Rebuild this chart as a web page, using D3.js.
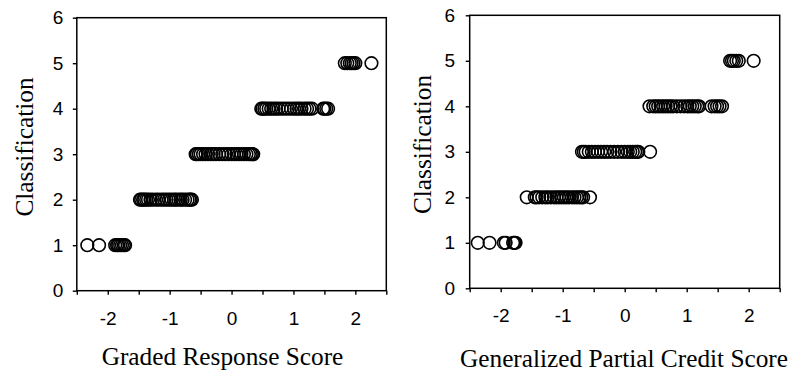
<!DOCTYPE html>
<html><head><meta charset="utf-8">
<script src="https://cdn.jsdelivr.net/npm/d3@7"></script>
<style>html,body{margin:0;padding:0;background:#fff;}svg{display:block;}</style>
</head><body>
<svg id="chart" width="796" height="374"></svg>
<script>
// ---- data ----
const xTickLabels = [-2, -1, 0, 1, 2];
const yTickLabels = [0, 1, 2, 3, 4, 5, 6];
const gradedTitle = "Graded Response Score";
const gpcTitle = "Generalized Partial Credit Score";
const yTitle = "Classification";

// Graded Response scores per classification level
const graded1 = [-2.33, -2.14, -1.88, -1.85, -1.83, -1.80, -1.77, -1.74, -1.72];
const graded2 = [-1.48, -1.46, -1.43, -1.41, -1.38, -1.35, -1.31, -1.27, -1.22, -1.18, -1.13, -1.09, -1.05, -1.01, -0.97, -0.93, -0.90, -0.86, -0.82, -0.79, -0.75, -0.71, -0.68, -0.66, -0.64];
const graded3 = [-0.58, -0.56, -0.53, -0.50, -0.46, -0.42, -0.38, -0.33, -0.29, -0.25, -0.20, -0.15, -0.10, -0.05, 0.00, 0.04, 0.08, 0.12, 0.16, 0.20, 0.24, 0.28, 0.31, 0.33, 0.35];
const graded4 = [0.48, 0.50, 0.53, 0.56, 0.60, 0.64, 0.68, 0.72, 0.76, 0.81, 0.86, 0.91, 0.96, 1.01, 1.05, 1.09, 1.13, 1.18, 1.22, 1.26, 1.30, 1.48, 1.50, 1.53, 1.56];
const graded5 = [1.83, 1.87, 1.91, 1.94, 1.97, 2.00, 2.26];

// Generalized Partial Credit scores per classification level
const gpc1 = [-2.37, -2.18, -1.95, -1.92, -1.80, -1.78, -1.76];
const gpc2 = [-1.58, -1.45, -1.42, -1.38, -1.33, -1.28, -1.24, -1.19, -1.14, -1.10, -1.06, -1.02, -0.98, -0.94, -0.90, -0.85, -0.81, -0.77, -0.73, -0.70, -0.67, -0.56];
const gpc3 = [-0.69, -0.66, -0.63, -0.58, -0.53, -0.48, -0.43, -0.38, -0.33, -0.28, -0.23, -0.17, -0.11, -0.05, 0.00, 0.05, 0.09, 0.13, 0.17, 0.20, 0.22, 0.41];
const gpc4 = [0.40, 0.46, 0.50, 0.54, 0.58, 0.62, 0.66, 0.70, 0.74, 0.78, 0.84, 0.90, 0.96, 1.01, 1.05, 1.09, 1.13, 1.17, 1.20, 1.40, 1.45, 1.49, 1.53, 1.57];
const gpc5 = [1.70, 1.73, 1.76, 1.80, 1.84, 2.08];

const gradedLevels = [graded1, graded2, graded3, graded4, graded5];
const gpcLevels = [gpc1, gpc2, gpc3, gpc4, gpc5];

// ---- drawing ----
const svg = d3.select("#chart");
const sans = "'Liberation Sans', Arial, sans-serif";
const serif = "'Liberation Serif', 'Times New Roman', serif";

function panel(levels, cfg) {
  const x = d3.scaleLinear().domain([-2.5, 2.5]).range([cfg.left, cfg.right]);
  const y = d3.scaleLinear().domain([0, 6]).range([cfg.bottom, cfg.top]);
  const g = svg.append("g");

  // frame
  g.append("rect")
    .attr("x", cfg.left).attr("y", cfg.top)
    .attr("width", cfg.right - cfg.left).attr("height", cfg.bottom - cfg.top)
    .attr("fill", "none").attr("stroke", "#000").attr("stroke-width", 1.5);

  // x axis
  const xAxis = d3.axisBottom(x)
    .tickValues(d3.range(-2.5, 2.51, 0.5))
    .tickSize(4).tickSizeOuter(0)
    .tickFormat(d => xTickLabels.includes(d) ? String(d) : "");
  const gx = g.append("g").attr("transform", `translate(0,${cfg.bottom})`).call(xAxis);
  gx.select(".domain").remove();
  gx.selectAll(".tick line").attr("stroke", "#000").attr("stroke-width", 1.4);
  gx.selectAll(".tick text").attr("font-family", sans).attr("font-size", 19)
    .attr("fill", "#000").attr("y", 20.5).attr("dy", "0.71em");

  // y axis
  const yAxis = d3.axisLeft(y).tickValues(yTickLabels).tickSize(4).tickSizeOuter(0)
    .tickFormat(d3.format("d"));
  const gy = g.append("g").attr("transform", `translate(${cfg.left},0)`).call(yAxis);
  gy.select(".domain").remove();
  gy.selectAll(".tick line").attr("stroke", "#000").attr("stroke-width", 1.4);
  gy.selectAll(".tick text").attr("font-family", sans).attr("font-size", 19)
    .attr("fill", "#000").attr("x", -cfg.labelGap);

  // points
  levels.forEach((vals, i) => {
    g.append("g").selectAll("circle").data(vals).join("circle")
      .attr("cx", d => x(d)).attr("cy", y(i + 1)).attr("r", 6.3)
      .attr("fill", "none").attr("stroke", "#000").attr("stroke-width", 1.6);
  });

  // titles
  g.append("text").attr("x", cfg.xTitleX).attr("y", cfg.xTitleY)
    .attr("text-anchor", "middle").attr("font-family", serif).attr("font-size", 25.3)
    .attr("fill", "#000").text(cfg.xTitle);
  g.append("text")
    .attr("transform", `translate(${cfg.yTitleX},${cfg.yTitleY}) rotate(-90)`)
    .attr("text-anchor", "middle").attr("font-family", serif).attr("font-size", 25.3)
    .attr("fill", "#000").text(yTitle);
}

panel(gradedLevels, {left: 76.8, right: 386.3, top: 17.7, bottom: 290.7, labelGap: 13.5,
  xTitle: gradedTitle, xTitleX: 222.5, xTitleY: 365, yTitleX: 33, yTitleY: 147});
panel(gpcLevels, {left: 469.7, right: 779.7, top: 15.3, bottom: 288.3, labelGap: 14.7,
  xTitle: gpcTitle, xTitleX: 624, xTitleY: 366.7, yTitleX: 431, yTitleY: 144.5});
</script>
</body></html>
